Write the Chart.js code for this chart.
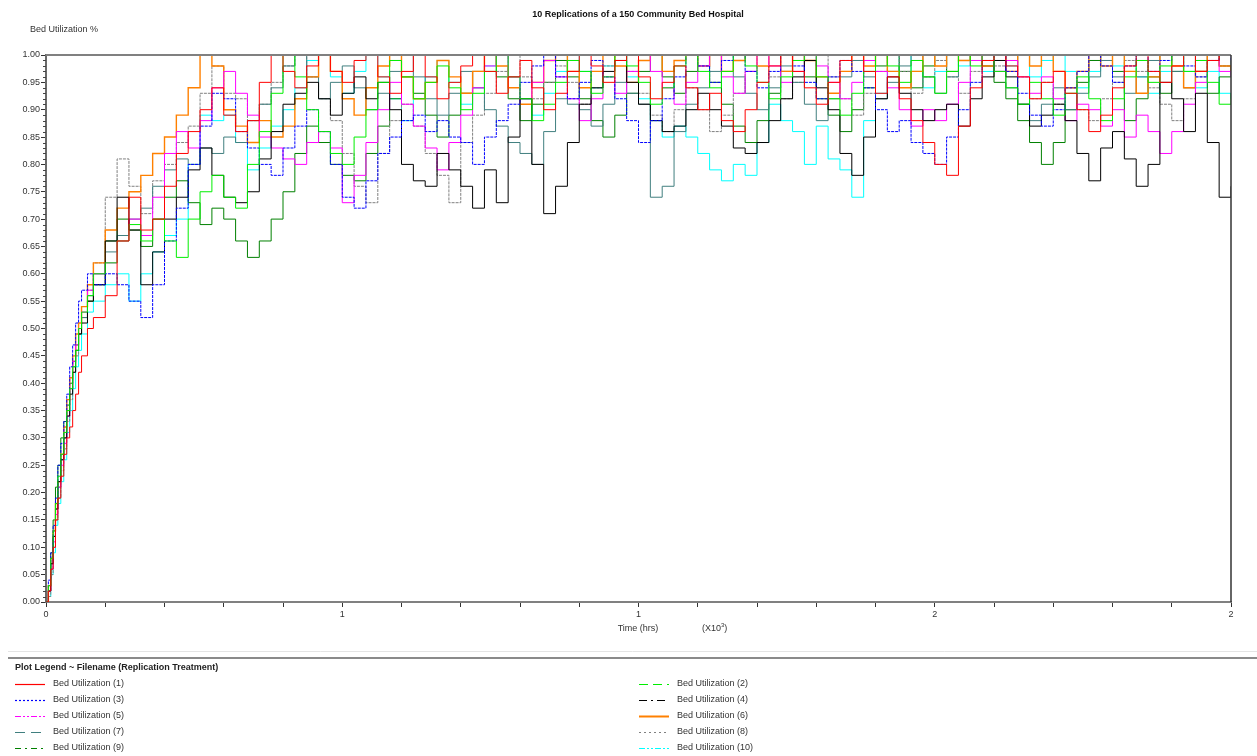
<!DOCTYPE html>
<html>
<head>
<meta charset="utf-8">
<title>10 Replications of a 150 Community Bed Hospital</title>
<script src="https://cdn.jsdelivr.net/npm/chart.js@4"></script>
<style>
html, body { margin: 0; padding: 0; background: #fff; }
#wrap { width: 1257px; height: 756px; }
</style>
</head>
<body>
<div id="wrap"><canvas id="chart" width="1257" height="756"></canvas></div>
<script>
// time grid (hrs) shared by all replications
const hours = [0, 4, 8, 12, 16, 20, 25, 30, 35, 40, 45, 50, 55, 60, 70, 80,
  100, 120, 140, 160, 180, 200, 220, 240, 260, 280, 300, 320, 340, 360, 380, 400, 420, 440, 460, 480,
  500, 520, 540, 560, 580, 600, 620, 640, 660, 680, 700, 720, 740, 760, 780, 800, 820, 840, 860, 880,
  900, 920, 940, 960, 980, 1000, 1020, 1040, 1060, 1080, 1100, 1120, 1140, 1160, 1180, 1200, 1220, 1240, 1260, 1280,
  1300, 1320, 1340, 1360, 1380, 1400, 1420, 1440, 1460, 1480, 1500, 1520, 1540, 1560, 1580, 1600, 1620, 1640, 1660, 1680,
  1700, 1720, 1740, 1760, 1780, 1800, 1820, 1840, 1860, 1880, 1900, 1920, 1940, 1960, 1980, 2000];

// bed utilization per replication
const util1 = [0, 0.02, 0.06, 0.10, 0.15, 0.19, 0.23, 0.27, 0.30, 0.32, 0.35, 0.38, 0.42, 0.45, 0.50, 0.52,
  0.56, 0.66, 0.74, 0.68, 0.70, 0.76, 0.82, 0.86, 0.90, 0.94, 0.89, 0.86, 0.88, 0.95, 1.00, 0.97, 0.94, 0.98, 1.00, 0.97,
  0.95, 0.99, 1.00, 0.96, 0.93, 0.97, 1.00, 0.96, 0.92, 0.95, 0.98, 1.00, 0.97, 0.93, 0.96, 0.99, 0.94, 0.90, 0.93, 0.97,
  1.00, 0.98, 0.95, 0.99, 1.00, 0.96, 0.92, 0.95, 0.98, 0.94, 0.90, 0.93, 0.88, 0.86, 0.90, 0.95, 0.98, 1.00, 0.97, 0.94,
  0.91, 0.95, 0.99, 1.00, 0.97, 0.93, 0.96, 0.92, 0.88, 0.84, 0.80, 0.78, 0.87, 0.94, 0.99, 1.00, 0.98, 0.96, 0.92, 0.95,
  0.97, 0.93, 0.90, 0.86, 0.89, 0.94, 0.98, 1.00, 0.97, 0.95, 0.98, 1.00, 0.97, 0.99, 1.00, 1.00];
const util2 = [0, 0.03, 0.08, 0.13, 0.18, 0.23, 0.27, 0.31, 0.35, 0.39, 0.43, 0.46, 0.50, 0.53, 0.56, 0.60,
  0.62, 0.66, 0.69, 0.66, 0.70, 0.66, 0.63, 0.70, 0.75, 0.78, 0.74, 0.72, 0.80, 0.86, 0.93, 1.00, 0.96, 0.90, 0.86, 0.82,
  0.80, 0.85, 0.90, 0.95, 0.99, 0.96, 0.92, 0.95, 0.98, 0.94, 0.90, 0.93, 0.97, 1.00, 0.96, 0.92, 0.88, 0.91, 0.95, 0.99,
  0.97, 0.93, 0.96, 1.00, 0.98, 0.95, 0.91, 0.94, 0.98, 1.00, 0.97, 0.94, 0.97, 1.00, 0.98, 0.95, 0.92, 0.96, 0.99, 1.00,
  0.96, 0.92, 0.89, 0.93, 0.97, 1.00, 0.98, 0.95, 0.99, 0.96, 0.93, 0.97, 1.00, 0.98, 1.00, 0.97, 0.94, 0.91, 0.95, 0.92,
  0.89, 0.93, 0.96, 0.92, 0.88, 0.92, 0.96, 0.99, 0.95, 0.98, 1.00, 0.97, 0.99, 0.95, 0.91, 0.93];
const util3 = [0, 0.04, 0.09, 0.14, 0.19, 0.25, 0.29, 0.33, 0.38, 0.43, 0.47, 0.51, 0.55, 0.57, 0.60, 0.58,
  0.60, 0.58, 0.55, 0.52, 0.58, 0.66, 0.72, 0.80, 0.87, 0.93, 0.92, 0.86, 0.83, 0.80, 0.78, 0.83, 0.87, 0.90, 0.86, 0.80,
  0.74, 0.72, 0.77, 0.82, 0.85, 0.88, 0.89, 0.86, 0.88, 0.85, 0.84, 0.80, 0.85, 0.88, 0.91, 0.95, 0.98, 1.00, 0.96, 0.92,
  0.95, 0.99, 0.96, 0.92, 0.88, 0.84, 0.88, 0.92, 0.96, 1.00, 0.98, 0.95, 0.99, 1.00, 0.97, 0.94, 0.97, 1.00, 0.98, 0.95,
  0.92, 0.96, 0.99, 0.97, 0.94, 0.90, 0.86, 0.88, 0.84, 0.82, 0.80, 0.85, 0.90, 0.95, 0.99, 1.00, 0.97, 0.93, 0.89, 0.87,
  0.90, 0.94, 0.97, 1.00, 0.98, 0.95, 0.98, 1.00, 0.97, 0.99, 1.00, 0.98, 0.96, 0.99, 1.00, 0.99];
const util4 = [0, 0.02, 0.07, 0.12, 0.17, 0.22, 0.26, 0.30, 0.34, 0.38, 0.42, 0.46, 0.49, 0.51, 0.55, 0.58,
  0.66, 0.74, 0.68, 0.58, 0.64, 0.70, 0.74, 0.79, 0.83, 0.78, 0.74, 0.73, 0.75, 0.81, 0.86, 0.91, 0.93, 0.95, 0.92, 0.89,
  0.93, 0.96, 0.92, 0.95, 0.90, 0.80, 0.77, 0.76, 0.82, 0.79, 0.76, 0.72, 0.79, 0.73, 0.85, 0.92, 0.80, 0.71, 0.76, 0.84,
  0.91, 0.94, 0.97, 0.99, 0.95, 0.91, 0.88, 0.86, 0.87, 0.90, 0.93, 0.90, 0.87, 0.83, 0.82, 0.84, 0.88, 0.92, 0.96, 0.99,
  0.94, 0.90, 0.82, 0.78, 0.85, 0.92, 0.96, 0.93, 0.90, 0.88, 0.90, 0.91, 0.87, 0.92, 0.96, 0.99, 0.96, 0.91, 0.87, 0.89,
  0.91, 0.88, 0.82, 0.77, 0.83, 0.86, 0.81, 0.76, 0.80, 0.95, 0.92, 0.86, 0.93, 0.84, 0.74, 0.76];
const util5 = [0, 0.02, 0.06, 0.11, 0.16, 0.21, 0.25, 0.29, 0.34, 0.39, 0.44, 0.47, 0.50, 0.53, 0.57, 0.60,
  0.62, 0.66, 0.70, 0.67, 0.74, 0.82, 0.86, 0.83, 0.88, 0.94, 0.97, 0.93, 0.89, 0.85, 0.83, 0.81, 0.80, 0.84, 0.86, 0.83,
  0.73, 0.78, 0.84, 0.90, 0.95, 0.91, 0.87, 0.83, 0.79, 0.84, 0.89, 0.94, 0.98, 1.00, 0.96, 0.92, 0.95, 0.99, 0.96, 0.92,
  0.88, 0.92, 0.96, 0.93, 0.97, 1.00, 0.97, 0.94, 0.91, 0.95, 0.98, 1.00, 0.96, 0.93, 0.97, 1.00, 0.98, 0.95, 0.97, 1.00,
  0.98, 0.95, 0.92, 0.95, 0.99, 0.97, 0.94, 0.90, 0.87, 0.90, 0.88, 0.91, 0.95, 0.99, 1.00, 0.97, 0.99, 0.96, 0.93, 0.96,
  0.92, 0.88, 0.91, 0.90, 0.87, 0.90, 0.85, 0.89, 0.86, 0.82, 0.86, 0.91, 0.95, 0.99, 0.97, 0.96];
const util6 = [0, 0.03, 0.08, 0.13, 0.18, 0.22, 0.27, 0.32, 0.37, 0.41, 0.45, 0.49, 0.51, 0.54, 0.58, 0.62,
  0.68, 0.72, 0.75, 0.78, 0.82, 0.85, 0.89, 0.94, 1.00, 0.98, 0.90, 0.87, 0.84, 0.88, 0.85, 0.87, 0.92, 0.96, 1.00, 0.97,
  0.92, 0.89, 0.94, 0.98, 1.00, 0.96, 0.92, 0.95, 0.99, 0.96, 0.93, 0.97, 1.00, 0.98, 0.94, 0.91, 0.95, 0.99, 1.00, 0.97,
  0.94, 0.97, 1.00, 0.98, 0.95, 0.99, 1.00, 0.97, 0.99, 1.00, 0.98, 1.00, 0.97, 0.99, 1.00, 0.98, 1.00, 0.97, 1.00, 0.99,
  0.96, 0.93, 0.97, 1.00, 0.98, 1.00, 0.97, 0.94, 0.97, 1.00, 0.98, 1.00, 0.99, 1.00, 0.98, 1.00, 0.97, 1.00, 0.98, 1.00,
  0.97, 0.94, 0.97, 1.00, 0.98, 1.00, 0.97, 0.93, 0.96, 1.00, 0.98, 0.94, 0.97, 1.00, 0.98, 0.97];
const util7 = [0, 0.02, 0.07, 0.12, 0.17, 0.21, 0.26, 0.30, 0.35, 0.39, 0.43, 0.46, 0.49, 0.52, 0.56, 0.60,
  0.64, 0.67, 0.70, 0.72, 0.76, 0.79, 0.81, 0.80, 0.83, 0.82, 0.85, 0.84, 0.88, 0.91, 0.94, 0.98, 1.00, 0.96, 0.92, 0.95,
  0.98, 0.94, 0.90, 0.93, 0.97, 1.00, 0.96, 0.92, 0.89, 0.93, 0.97, 0.94, 0.90, 0.87, 0.84, 0.82, 0.80, 0.86, 0.92, 0.91,
  0.90, 0.87, 0.91, 0.95, 0.93, 0.91, 0.74, 0.76, 0.86, 0.91, 0.94, 0.97, 1.00, 0.96, 0.93, 0.90, 0.94, 0.98, 0.95, 0.91,
  0.88, 0.92, 0.96, 0.99, 0.96, 0.92, 0.95, 0.98, 1.00, 0.96, 0.93, 0.96, 0.99, 1.00, 0.98, 0.97, 0.94, 0.91, 0.88, 0.91,
  0.94, 0.90, 0.93, 0.96, 0.99, 0.96, 0.93, 0.96, 0.99, 1.00, 0.97, 0.94, 0.97, 1.00, 0.98, 0.99];
const util8 = [0, 0.01, 0.05, 0.10, 0.15, 0.19, 0.24, 0.28, 0.33, 0.37, 0.42, 0.45, 0.49, 0.52, 0.57, 0.62,
  0.74, 0.81, 0.76, 0.71, 0.77, 0.80, 0.84, 0.87, 0.93, 0.98, 0.93, 0.92, 0.88, 0.91, 0.95, 0.98, 1.00, 0.96, 0.92, 0.88,
  0.82, 0.76, 0.73, 0.82, 0.88, 0.91, 0.87, 0.82, 0.78, 0.73, 0.84, 0.89, 0.93, 0.97, 1.00, 0.96, 0.92, 0.95, 0.98, 0.95,
  0.91, 0.94, 0.98, 1.00, 0.97, 0.93, 0.89, 0.86, 0.90, 0.94, 0.90, 0.86, 0.89, 0.93, 0.97, 1.00, 0.96, 0.92, 0.95, 0.99,
  1.00, 0.96, 0.92, 0.89, 0.93, 0.97, 1.00, 0.97, 0.93, 0.96, 0.99, 0.96, 0.93, 0.97, 1.00, 0.98, 1.00, 0.96, 0.92, 0.95,
  0.91, 0.94, 0.90, 0.88, 0.92, 0.95, 0.99, 0.97, 0.94, 0.91, 0.88, 0.92, 0.96, 1.00, 0.98, 0.97];
const util9 = [0, 0.03, 0.09, 0.15, 0.21, 0.25, 0.30, 0.33, 0.36, 0.40, 0.44, 0.47, 0.49, 0.52, 0.55, 0.58,
  0.66, 0.70, 0.68, 0.65, 0.70, 0.74, 0.77, 0.73, 0.69, 0.72, 0.70, 0.66, 0.63, 0.66, 0.70, 0.75, 0.82, 0.87, 0.84, 0.80,
  0.78, 0.77, 0.82, 0.87, 0.92, 0.96, 0.93, 0.89, 0.85, 0.89, 0.93, 0.97, 1.00, 0.96, 0.92, 0.88, 0.91, 0.95, 0.99, 0.96,
  0.92, 0.88, 0.85, 0.89, 0.93, 0.97, 1.00, 0.96, 0.93, 0.97, 1.00, 0.95, 0.91, 0.87, 0.84, 0.88, 0.93, 0.97, 1.00, 0.96,
  0.92, 0.89, 0.86, 0.90, 0.94, 0.98, 1.00, 0.97, 0.94, 0.98, 1.00, 0.97, 0.99, 1.00, 0.98, 0.95, 0.92, 0.88, 0.84, 0.80,
  0.84, 0.90, 0.95, 0.99, 1.00, 0.97, 0.88, 0.92, 0.96, 0.93, 0.97, 1.00, 0.97, 0.93, 0.96, 0.98];
const util10 = [0, 0.01, 0.05, 0.09, 0.14, 0.18, 0.22, 0.26, 0.31, 0.35, 0.39, 0.43, 0.46, 0.49, 0.53, 0.55,
  0.58, 0.60, 0.55, 0.60, 0.64, 0.67, 0.70, 0.80, 0.89, 0.88, 0.89, 0.84, 0.79, 0.83, 0.87, 0.90, 0.94, 0.99, 1.00, 0.96,
  0.93, 0.97, 1.00, 0.96, 0.92, 0.88, 0.92, 0.96, 0.99, 0.95, 0.91, 0.94, 0.98, 1.00, 0.96, 0.92, 0.89, 0.93, 0.97, 1.00,
  0.97, 0.94, 0.98, 1.00, 0.96, 0.92, 0.88, 0.85, 0.87, 0.85, 0.82, 0.79, 0.77, 0.80, 0.78, 0.84, 0.91, 0.88, 0.86, 0.80,
  0.87, 0.81, 0.79, 0.74, 0.88, 0.93, 0.97, 1.00, 0.97, 0.94, 0.97, 1.00, 0.98, 1.00, 0.97, 1.00, 0.98, 1.00, 0.96, 0.99,
  1.00, 0.97, 0.94, 0.97, 1.00, 0.98, 1.00, 0.96, 0.93, 0.97, 1.00, 0.97, 0.94, 0.97, 0.93, 0.92];

const seriesValues = [util1, util2, util3, util4, util5, util6, util7, util8, util9, util10];
const seriesLabels = ['Bed Utilization (1)', 'Bed Utilization (2)', 'Bed Utilization (3)', 'Bed Utilization (4)',
  'Bed Utilization (5)', 'Bed Utilization (6)', 'Bed Utilization (7)', 'Bed Utilization (8)',
  'Bed Utilization (9)', 'Bed Utilization (10)'];

// line styles, one per replication (same order as seriesLabels)
const lineStyles = [
  { color: '#ff0000', dash: [] },
  { color: '#00ee00', dash: [9, 5] },
  { color: '#0000ff', dash: [2, 2] },
  { color: '#000000', dash: [8, 4, 2, 4] },
  { color: '#ff00ff', dash: [6, 2, 2, 2, 2, 2] },
  { color: '#ff8000', dash: [] },
  { color: '#407f7f', dash: [10, 6] },
  { color: '#808080', dash: [2, 3] },
  { color: '#008000', dash: [6, 4, 2, 4] },
  { color: '#00ffff', dash: [6, 2, 2, 2, 2, 2] }
];

// pick the condensed face if it is installed
function pickFamily() {
  const c = document.createElement('canvas').getContext('2d');
  c.font = '20px monospace';
  const base = c.measureText('Bed Utilization 0.95').width;
  c.font = '20px "Liberation Sans Narrow", monospace';
  const narrow = c.measureText('Bed Utilization 0.95').width;
  return Math.abs(base - narrow) > 0.5 ? '"Liberation Sans Narrow"' : '"Liberation Sans"';
}
const family = pickFamily();
const isNarrow = family.indexOf('Narrow') >= 0;
const fontSize = isNarrow ? 10 : 9;
const textColor = '#333333';

// the plot is a step trace; dense steps make most styles read as solid there
const datasets = seriesValues.map((vals, i) => ({
  label: seriesLabels[i],
  data: vals.map((v, j) => ({ x: hours[j], y: v })),
  borderColor: lineStyles[i].color,
  borderDash: (i === 2 || i === 7) ? [3, 1] : [],
  borderWidth: i === 5 ? 1.4 : 1,
  stepped: true,
  pointRadius: 0,
  fill: false
}));

function fontStr(weight, size) {
  return weight + ' ' + size + 'px ' + family + ', Arial, sans-serif';
}

const decorPlugin = {
  id: 'decor',
  afterDraw(chart) {
    const ctx = chart.ctx;
    const a = chart.chartArea;
    const ys = chart.scales.y;
    ctx.save();

    // plot frame: top and right edges
    ctx.strokeStyle = '#808080';
    ctx.lineWidth = 2;
    ctx.beginPath();
    ctx.moveTo(a.left, a.top);
    ctx.lineTo(a.right, a.top);
    ctx.stroke();
    ctx.strokeStyle = '#333333';
    ctx.lineWidth = 1.5;
    ctx.beginPath();
    ctx.moveTo(a.right, a.top);
    ctx.lineTo(a.right, a.bottom);
    ctx.stroke();

    // minor y ticks every 0.01
    ctx.strokeStyle = '#444';
    ctx.lineWidth = 1;
    for (let k = 0; k <= 100; k++) {
      if (k % 5 === 0) continue;
      const py = Math.round(ys.getPixelForValue(k / 100)) + 0.5;
      ctx.beginPath();
      ctx.moveTo(a.left - 3, py);
      ctx.lineTo(a.left, py);
      ctx.stroke();
    }

    ctx.fillStyle = textColor;
    ctx.textBaseline = 'middle';

    // titles
    ctx.font = fontStr('bold', fontSize);
    ctx.textAlign = 'center';
    ctx.fillStyle = '#111';
    ctx.fillText('10 Replications of a 150 Community Bed Hospital', 638, 15);
    ctx.fillStyle = textColor;
    ctx.font = fontStr('normal', fontSize);
    ctx.textAlign = 'left';
    ctx.fillText('Bed Utilization %', 30, 30);
    ctx.textAlign = 'center';
    ctx.fillText('Time (hrs)', 638, 629);
    ctx.textAlign = 'left';
    ctx.fillText('(X10', 702, 629);
    const w = ctx.measureText('(X10').width;
    ctx.font = fontStr('normal', fontSize - 3);
    ctx.fillText('3', 702 + w, 625);
    const w3 = ctx.measureText('3').width;
    ctx.font = fontStr('normal', fontSize);
    ctx.fillText(')', 702 + w + w3, 629);

    // legend panel
    ctx.strokeStyle = '#e4e4e4';
    ctx.lineWidth = 1;
    ctx.beginPath();
    ctx.moveTo(8, 651.5);
    ctx.lineTo(1257, 651.5);
    ctx.stroke();
    ctx.strokeStyle = '#8a8a8a';
    ctx.lineWidth = 2;
    ctx.beginPath();
    ctx.moveTo(8, 658);
    ctx.lineTo(1257, 658);
    ctx.stroke();

    ctx.font = fontStr('bold', fontSize);
    ctx.fillStyle = '#222';
    ctx.fillText('Plot Legend ~ Filename (Replication Treatment)', 15, 668);

    ctx.font = fontStr('normal', fontSize);
    seriesLabels.forEach((lab, i) => {
      const col = i % 2;
      const row = Math.floor(i / 2);
      const x0 = col === 0 ? 15 : 639;
      const py = 684 + row * 16;
      ctx.strokeStyle = lineStyles[i].color;
      ctx.lineWidth = i === 5 ? 2 : 1.2;
      ctx.setLineDash(lineStyles[i].dash);
      ctx.beginPath();
      ctx.moveTo(x0, py + 0.5);
      ctx.lineTo(x0 + 30, py + 0.5);
      ctx.stroke();
      ctx.setLineDash([]);
      ctx.fillStyle = textColor;
      ctx.fillText(lab, x0 + 38, py);
    });

    ctx.restore();
  }
};

const tickFont = { family: family + ', Arial, sans-serif', size: fontSize };

new Chart(document.getElementById('chart'), {
  type: 'line',
  data: { datasets: datasets },
  options: {
    responsive: false,
    animation: false,
    layout: { padding: { top: 55, right: 26, bottom: 0, left: 0 } },
    plugins: {
      legend: { display: false },
      title: { display: false },
      tooltip: { enabled: false }
    },
    scales: {
      x: {
        type: 'linear',
        min: 0,
        max: 2000,
        afterFit: s => { s.height = 154; },
        border: { color: '#808080', width: 2 },
        grid: { drawOnChartArea: false, tickLength: 5, color: '#333' },
        ticks: {
          stepSize: 100,
          autoSkip: false,
          maxRotation: 0,
          padding: 2,
          color: textColor,
          font: tickFont,
          callback: v => (v % 500 === 0 ? String(Math.round(v / 1000)) : '')
        }
      },
      y: {
        min: 0,
        max: 1,
        afterFit: s => { s.width = 46; },
        border: { color: '#6a6a6a', width: 2 },
        grid: { drawOnChartArea: false, tickLength: 5, color: '#333' },
        ticks: {
          stepSize: 0.05,
          autoSkip: false,
          padding: 1,
          color: textColor,
          font: tickFont,
          callback: v => v.toFixed(2)
        }
      }
    }
  },
  plugins: [decorPlugin]
});
</script>
</body>
</html>
